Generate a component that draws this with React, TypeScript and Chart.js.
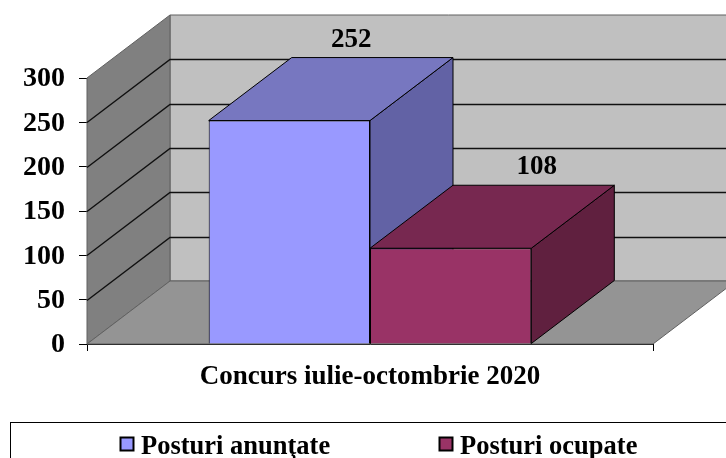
import React, { useEffect, useRef } from "react";
import { Chart, registerables } from "chart.js";

Chart.register(...registerables);

const categories = ["Concurs iulie-octombrie 2020"];
const seriesNames = ["Posturi anunţate", "Posturi ocupate"];
const anuntate = [252];
const ocupate = [108];
const frontColors = ["#9999ff", "#993366"];
const topColors = ["#7777c0", "#772850"];
const sideColors = ["#6262a5", "#60203f"];

const DX = 83;
const DY = -63;
const FONT = "'Liberation Serif', 'Times New Roman', serif";
const labelShift = [62, 86];
const legendX = [120, 439];

function poly(ctx: CanvasRenderingContext2D, pts: number[][], fill: string, stroke: string) {
  ctx.beginPath();
  pts.forEach((p, i) => (i ? ctx.lineTo(p[0], p[1]) : ctx.moveTo(p[0], p[1])));
  ctx.closePath();
  ctx.fillStyle = fill;
  ctx.fill();
  ctx.strokeStyle = stroke;
  ctx.lineWidth = 1;
  ctx.stroke();
}

const scene3d = {
  id: "scene3d",
  beforeDatasetsDraw(chart: any) {
    const { ctx, chartArea: a, scales } = chart;
    const y = scales.y;
    const L = a.left, R = a.right, T = a.top, B = a.bottom;
    ctx.save();
    poly(ctx, [[L + DX, T + DY], [R + DX, T + DY], [R + DX, B + DY], [L + DX, B + DY]], "#c0c0c0", "#606060");
    poly(ctx, [[L, T], [L + DX, T + DY], [L + DX, B + DY], [L, B]], "#808080", "#606060");
    poly(ctx, [[L, B], [L + DX, B + DY], [R + DX, B + DY], [R, B]], "#949494", "#606060");
    ctx.strokeStyle = "#101010";
    ctx.lineWidth = 1.4;
    y.ticks.forEach((t: any) => {
      if (t.value === 0 || t.value === y.max) return;
      const py = Math.round(y.getPixelForValue(t.value)) + 0.5;
      ctx.beginPath();
      ctx.moveTo(L, py);
      ctx.lineTo(L + DX, py + DY);
      ctx.lineTo(R + DX, py + DY);
      ctx.stroke();
    });
    chart.data.datasets.forEach((_: any, i: number) => {
      const el = chart.getDatasetMeta(i).data[0];
      const x0 = el.x - el.width / 2;
      const x1 = el.x + el.width / 2;
      poly(ctx, [[x1, el.y], [x1 + DX, el.y + DY], [x1 + DX, el.base + DY], [x1, el.base]], sideColors[i], "#000");
      poly(ctx, [[x0, el.y], [x0 + DX, el.y + DY], [x1 + DX, el.y + DY], [x1, el.y]], topColors[i], "#000");
    });
    ctx.restore();
  },
  afterDatasetsDraw(chart: any) {
    const { ctx, width, height } = chart;
    ctx.save();
    ctx.fillStyle = "#000";
    ctx.font = `bold 27px ${FONT}`;
    ctx.textAlign = "center";
    ctx.textBaseline = "alphabetic";
    chart.data.datasets.forEach((ds: any, i: number) => {
      const el = chart.getDatasetMeta(i).data[0];
      ctx.fillText(String(ds.data[0]), el.x + labelShift[i], el.y + DY - 11);
    });
    ctx.strokeStyle = "#000";
    ctx.lineWidth = 1;
    ctx.strokeRect(10.5, 422.5, width + 10, height);
    ctx.font = `bold 26.5px ${FONT}`;
    ctx.textAlign = "left";
    chart.data.datasets.forEach((ds: any, i: number) => {
      ctx.fillStyle = frontColors[i];
      ctx.fillRect(legendX[i] + 0.5, 437.5, 13, 13);
      ctx.lineWidth = 2;
      ctx.strokeStyle = "#000";
      ctx.strokeRect(legendX[i] + 0.5, 437.5, 13, 13);
      ctx.fillStyle = "#000";
      ctx.fillText(ds.label, legendX[i] + 21, 453.5);
    });
    ctx.restore();
  },
};

export default function App() {
  const ref = useRef<HTMLCanvasElement>(null);
  useEffect(() => {
    const chart = new Chart(ref.current!, {
      type: "bar",
      data: {
        labels: categories,
        datasets: [
          { label: seriesNames[0], data: anuntate, backgroundColor: frontColors[0], borderColor: "#000", borderWidth: 1 },
          { label: seriesNames[1], data: ocupate, backgroundColor: frontColors[1], borderColor: "#000", borderWidth: 1 },
        ],
      },
      options: {
        responsive: false,
        animation: false,
        layout: { padding: { top: 78, left: 0, right: 73, bottom: 0 } },
        plugins: { legend: { display: false }, tooltip: { enabled: false } },
        datasets: { bar: { categoryPercentage: 0.57, barPercentage: 1 } },
        scales: {
          x: {
            afterFit: (s: any) => { s.height = 114; },
            grid: { drawOnChartArea: false, drawTicks: true, tickLength: 7, color: "#000" },
            border: { color: "#000" },
            ticks: { color: "#000", padding: 10, font: { family: FONT, size: 27, weight: "bold" } },
          },
          y: {
            min: 0,
            max: 300,
            afterFit: (s: any) => { s.width = 87; },
            grid: { drawOnChartArea: false, drawTicks: true, tickLength: 8, color: "#000" },
            border: { color: "#000" },
            ticks: { stepSize: 50, color: "#000", padding: 14, labelOffset: 1, font: { family: FONT, size: 28, weight: "bold" } },
          },
        },
      },
      plugins: [scene3d],
    } as any);
    return () => chart.destroy();
  }, []);
  return (
    <canvas
      ref={ref}
      width={726}
      height={458}
      style={{ position: "fixed", left: 0, top: 0, width: 726, height: 458, display: "block" }}
    />
  );
}
